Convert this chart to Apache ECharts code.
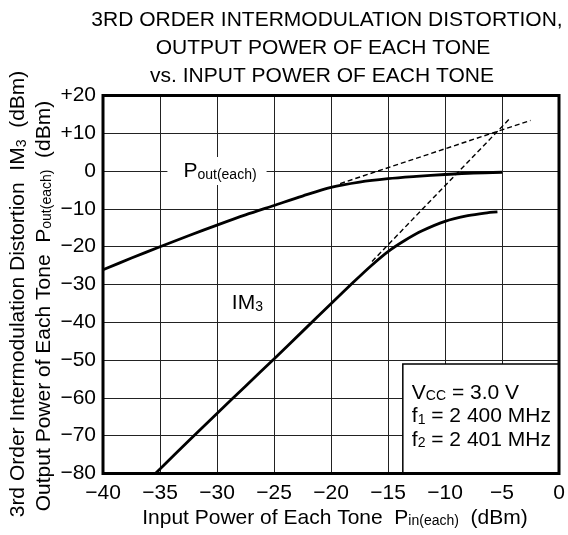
<!DOCTYPE html>
<html><head><meta charset="utf-8">
<script src="https://cdn.jsdelivr.net/npm/echarts@6/dist/echarts.min.js"></script>
<style>html,body{margin:0;padding:0;background:#fff}#c{width:568px;height:535px}</style>
</head><body><div id="c"></div>
<script>
const FONT = '"Liberation Sans", Arial, sans-serif';

// ticks
const xTicks = [-40, -35, -30, -25, -20, -15, -10, -5, 0];
const xTickLabels = ['\u221240', '\u221235', '\u221230', '\u221225', '\u221220', '\u221215', '\u221210', '\u22125', '0'];
const yTicks = [20, 10, 0, -10, -20, -30, -40, -50, -60, -70, -80];
const yTickLabels = ['+20', '+10', '0', '\u221210', '\u221220', '\u221230', '\u221240', '\u221250', '\u221260', '\u221270', '\u221280'];

// Pout(each) measured curve
const poutX = [-40, -37.5, -35, -32.5, -30, -27.5, -25, -22.5, -20, -17.5, -15, -12.5, -10, -7.5, -5];
const poutY = [-26.1, -23.0, -20.0, -17.1, -14.3, -11.6, -9.1, -6.6, -4.3, -2.9, -2.0, -1.4, -0.9, -0.5, -0.3];

// IM3 measured curve
const im3X = [-35.4, -32.5, -30, -27.5, -25, -22.5, -20, -18, -16.5, -15, -13.5, -12, -10, -8, -6.5, -5.4];
const im3Y = [-80, -71.4, -64.1, -56.9, -49.7, -42.4, -35.1, -29.3, -25.1, -21.3, -18.3, -15.8, -13.3, -11.8, -11.1, -10.8];

// extrapolated (dashed) lines
const poutExtX = [-19.2, -2.5];
const poutExtY = [-3.3, 13.4];
const im3ExtX = [-16.4, -4.35];
const im3ExtY = [-23.9, 13.8];

// text content
const titleLines = ['3RD ORDER INTERMODULATION DISTORTION,', 'OUTPUT POWER OF EACH TONE', 'vs. INPUT POWER OF EACH TONE'];

const chart = echarts.init(document.getElementById('c'), null, {renderer: 'canvas'});
const pairs = (xs, ys) => xs.map((x, i) => [x, ys[i]]);

const option = {
  animation: false,
  backgroundColor: '#fff',
  grid: {left: 103, right: 9, top: 95.5, bottom: 61.5, containLabel: false, outerBoundsMode: 'none', show: false},
  tooltip: {show: false},
  xAxis: {
    type: 'value', min: -40, max: 0, interval: 5,
    axisLine: {show: false}, axisTick: {show: false},
    splitLine: {show: true, lineStyle: {color: '#222', width: 1}},
    axisLabel: {color: '#000', fontSize: 21, fontFamily: FONT, margin: 9,
      formatter: v => xTickLabels[xTicks.indexOf(Math.round(v))]}
  },
  yAxis: {
    type: 'value', min: -80, max: 20, interval: 10,
    axisLine: {show: false}, axisTick: {show: false},
    splitLine: {show: true, lineStyle: {color: '#222', width: 1}},
    axisLabel: {color: '#000', fontSize: 21, fontFamily: FONT, margin: 7,
      formatter: v => yTickLabels[yTicks.indexOf(Math.round(v))]}
  },
  series: [
    {type: 'line', data: pairs(poutX, poutY), smooth: 0.3, symbol: 'none', silent: true,
      lineStyle: {color: '#000', width: 2.8}, z: 5},
    {type: 'line', data: pairs(im3X, im3Y), smooth: 0.3, symbol: 'none', silent: true,
      lineStyle: {color: '#000', width: 2.8}, z: 5},
    {type: 'line', data: pairs(poutExtX, poutExtY), symbol: 'none', silent: true,
      lineStyle: {color: '#000', width: 1.4, type: [5, 3]}, z: 4},
    {type: 'line', data: pairs(im3ExtX, im3ExtY), symbol: 'none', silent: true,
      lineStyle: {color: '#000', width: 1.4, type: [5, 3]}, z: 4}
  ]
};
chart.setOption(option);

const p = (x, y) => chart.convertToPixel({gridIndex: 0}, [x, y]);
const tl = p(-40, 20), br = p(0, -80);
const big = {fontSize: 21, fontFamily: FONT, fill: '#000', verticalAlign: 'bottom', lineHeight: 21};
const sub = {fontSize: 14, fontFamily: FONT, fill: '#000', verticalAlign: 'bottom', lineHeight: 14};
const richSet = {a: big, s: sub};

const graphics = [];
// title
const titleX = [327, 323, 322];
const titleY = [20, 48.5, 76.5];
titleLines.forEach((t, i) => graphics.push({
  type: 'text', x: titleX[i], y: titleY[i], z: 50, silent: true,
  style: {text: t, fontSize: 21, fontFamily: FONT, fill: '#000', textAlign: 'center', textVerticalAlign: 'middle'}
}));
// y axis names (rotated)
graphics.push({
  type: 'text', x: 18.5, y: 294, rotation: Math.PI / 2, z: 50, silent: true,
  style: {text: '{a|3rd Order Intermodulation Distortion  IM}{s|3}{a|  (dBm)}', rich: richSet,
    textAlign: 'center', textVerticalAlign: 'middle'}
});
graphics.push({
  type: 'text', x: 44, y: 306, rotation: Math.PI / 2, z: 50, silent: true,
  style: {text: '{a|Output Power of Each Tone  P}{s|out(each)}{a|  (dBm)}', rich: richSet,
    textAlign: 'center', textVerticalAlign: 'middle'}
});
// x axis name
graphics.push({
  type: 'text', x: 335, y: 518, z: 50, silent: true,
  style: {text: '{a|Input Power of Each Tone  P}{s|in(each)}{a|  (dBm)}', rich: richSet,
    textAlign: 'center', textVerticalAlign: 'middle'}
});
// Pout label (with white background)
const pl = p(-30, 0);
graphics.push({
  type: 'text', x: pl[0], y: pl[1], z: 50, silent: true,
  style: {text: '{a|P}{s|out(each)}', rich: richSet, textAlign: 'center', textVerticalAlign: 'middle',
    backgroundColor: '#fff', padding: [4, 10, 3, 16]}
});
// IM3 label
const il = p(-28.7, -35);
graphics.push({
  type: 'text', x: il[0], y: il[1], z: 50, silent: true,
  style: {text: '{a|IM}{s|3}', rich: richSet, textAlign: 'left', textVerticalAlign: 'middle'}
});
// conditions box
const b0 = p(-13.7, -51);
graphics.push({
  type: 'rect', z: 55, silent: true,
  shape: {x: b0[0], y: b0[1], width: br[0] - b0[0], height: br[1] - b0[1]},
  style: {fill: '#fff', stroke: '#000', lineWidth: 1.5}
});
const boxLines = ['{a|V}{s|CC}{a| = 3.0 V}', '{a|f}{s|1}{a| = 2 400 MHz}', '{a|f}{s|2}{a| = 2 401 MHz}'];
const boxOff = [29, 52.5, 76];
boxLines.forEach((t, i) => graphics.push({
  type: 'text', x: b0[0] + 9, y: b0[1] + boxOff[i], z: 56, silent: true,
  style: {text: t, rich: richSet, textAlign: 'left', textVerticalAlign: 'middle'}
}));
// plot frame
graphics.push({
  type: 'rect', z: 60, silent: true,
  shape: {x: tl[0], y: tl[1], width: br[0] - tl[0], height: br[1] - tl[1]},
  style: {fill: 'none', stroke: '#000', lineWidth: 3}
});

chart.setOption({graphic: {elements: graphics}});
</script>
</body></html>
